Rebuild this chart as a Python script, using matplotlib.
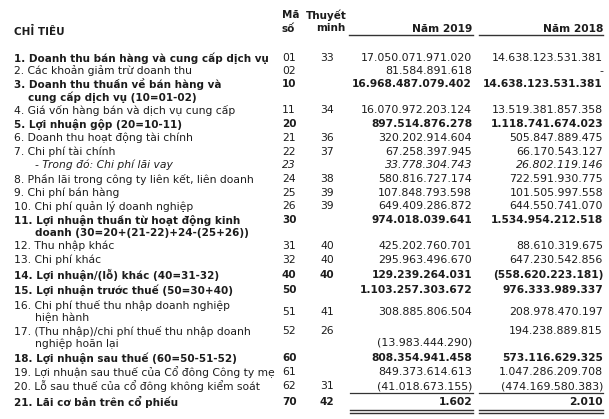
import matplotlib
matplotlib.use("Agg")
import matplotlib.pyplot as plt

# ---------------- data ----------------
labels = [
    "1. Doanh thu bán hàng và cung cấp dịch vụ",
    "2. Các khoản giảm trừ doanh thu",
    "3. Doanh thu thuần về bán hàng và\ncung cấp dịch vụ (10=01-02)",
    "4. Giá vốn hàng bán và dịch vụ cung cấp",
    "5. Lợi nhuận gộp (20=10-11)",
    "6. Doanh thu hoạt động tài chính",
    "7. Chi phí tài chính",
    "- Trong đó: Chi phí lãi vay",
    "8. Phần lãi trong công ty liên kết, liên doanh",
    "9. Chi phí bán hàng",
    "10. Chi phí quản lý doanh nghiệp",
    "11. Lợi nhuận thuần từ hoạt động kinh\ndoanh (30=20+(21-22)+24-(25+26))",
    "12. Thu nhập khác",
    "13. Chi phí khác",
    "14. Lợi nhuận/(lỗ) khác (40=31-32)",
    "15. Lợi nhuận trước thuế (50=30+40)",
    "16. Chi phí thuế thu nhập doanh nghiệp\nhiện hành",
    "17. (Thu nhập)/chi phí thuế thu nhập doanh\nnghiệp hoãn lại",
    "18. Lợi nhuận sau thuế (60=50-51-52)",
    "19. Lợi nhuận sau thuế của Cổ đông Công ty mẹ",
    "20. Lỗ sau thuế của cổ đông không kiểm soát",
    "21. Lãi cơ bản trên cổ phiếu",
]
codes = ["01", "02", "10", "11", "20", "21", "22", "23", "24", "25", "26",
         "30", "31", "32", "40", "50", "51", "52", "60", "61", "62", "70"]
notes = ["33", "", "", "34", "", "36", "37", "", "38", "39", "39",
         "", "40", "40", "40", "", "41", "26", "", "", "31", "42"]
values_2019 = ["17.050.071.971.020", "81.584.891.618", "16.968.487.079.402",
               "16.070.972.203.124", "897.514.876.278", "320.202.914.604",
               "67.258.397.945", "33.778.304.743", "580.816.727.174",
               "107.848.793.598", "649.409.286.872", "974.018.039.641",
               "425.202.760.701", "295.963.496.670", "129.239.264.031",
               "1.103.257.303.672", "308.885.806.504", "(13.983.444.290)",
               "808.354.941.458", "849.373.614.613", "(41.018.673.155)", "1.602"]
values_2018 = ["14.638.123.531.381", "-", "14.638.123.531.381",
               "13.519.381.857.358", "1.118.741.674.023", "505.847.889.475",
               "66.170.543.127", "26.802.119.146", "722.591.930.775",
               "101.505.997.558", "644.550.741.070", "1.534.954.212.518",
               "88.610.319.675", "647.230.542.856", "(558.620.223.181)",
               "976.333.989.337", "208.978.470.197", "194.238.889.815",
               "573.116.629.325", "1.047.286.209.708", "(474.169.580.383)", "2.010"]
header_label = "CHỈ TIÊU"
header_code = ["Mã", "số"]
header_note = ["Thuyết", "minh"]
header_years = ["Năm 2019", "Năm 2018"]

# ---------------- styles / layout ----------------
label_bold = [1, 0, 1, 0, 1, 0, 0, 0, 0, 0, 0, 1, 0, 0, 1, 1, 0, 0, 1, 0, 0, 1]
value_bold = [0, 0, 1, 0, 1, 0, 0, 0, 0, 0, 0, 1, 0, 0, 1, 1, 0, 0, 1, 0, 0, 1]
italic_rows = [7]
row_y = [58, 71, 84, 110, 124, 138, 152, 165, 179, 193, 206, 220,
         246, 260, 275, 290, 305, 331, 358, 372, 386, 402]
LINE = 13
indent = {2: 28, 11: 35, 16: 35, 17: 35}

W, H = 609, 419
fig = plt.figure(figsize=(W / 100, H / 100), dpi=100)
ax = fig.add_axes([0, 0, 1, 1])
ax.set_xlim(0, W)
ax.set_ylim(H, 0)
ax.axis("off")

col = "#1c1c1c"
FS_L = 7.75     # regular label size
FS_LB = 7.5     # bold label size
FS_N = 7.9      # regular number size
FS_NB = 7.7     # bold number size
X_LABEL = 14
X_CODE = 282
X_NOTE = 320
X_V19 = 472
X_V18 = 603


def fs_l(b):
    return FS_LB if b else FS_L


def fs_n(b):
    return FS_NB if b else FS_N


# header
ax.text(X_LABEL, 31, header_label, fontsize=FS_LB, fontweight="bold", color=col, va="center")
ax.text(X_CODE, 15, header_code[0], fontsize=FS_LB, fontweight="bold", color=col, va="center")
ax.text(X_CODE, 29, header_code[1], fontsize=FS_LB, fontweight="bold", color=col, va="center")
ax.text(326, 15, header_note[0], fontsize=FS_LB, fontweight="bold", color=col, va="center", ha="center")
ax.text(331, 28, header_note[1], fontsize=FS_LB, fontweight="bold", color=col, va="center", ha="center")
ax.text(X_V19, 29, header_years[0], fontsize=FS_NB, fontweight="bold", color=col, va="center", ha="right")
ax.text(X_V18, 29, header_years[1], fontsize=FS_NB, fontweight="bold", color=col, va="center", ha="right")
ax.plot([349, 473], [35, 35], color="#333333", lw=1.0)
ax.plot([479, 603], [35, 35], color="#333333", lw=1.0)

for i, lab in enumerate(labels):
    y = row_y[i]
    lb = bool(label_bold[i])
    vb = bool(value_bold[i])
    lw = "bold" if lb else "normal"
    vw = "bold" if vb else "normal"
    st = "italic" if i in italic_rows else "normal"
    lines = lab.split("\n")
    x0 = 35 if i in italic_rows else X_LABEL
    ax.text(x0, y, lines[0], fontsize=fs_l(lb), fontweight=lw, style=st, color=col, va="center")
    if len(lines) > 1:
        ax.text(indent[i], y + LINE, lines[1], fontsize=fs_l(lb), fontweight=lw, style=st,
                color=col, va="center")
    yc = yn = y19 = y18 = y
    if i == 16:
        yc = yn = y19 = y18 = y + LINE / 2
    if i == 17:
        y19 = y + 11
    ax.text(X_CODE, yc, codes[i], fontsize=fs_l(vb), fontweight=vw, style=st, color=col, va="center")
    ax.text(X_NOTE, yn, notes[i], fontsize=fs_l(vb), fontweight=vw, color=col, va="center")
    ax.text(X_V19, y19, values_2019[i], fontsize=fs_n(vb), fontweight=vw, style=st, color=col,
            va="center", ha="right")
    ax.text(X_V18, y18, values_2018[i], fontsize=fs_n(vb), fontweight=vw, style=st, color=col,
            va="center", ha="right")

# underline under row 20 and double underline under row 21
for x0, x1 in [(350, 473), (479, 603)]:
    ax.plot([x0, x1], [393, 393], color="#333333", lw=0.9)
    ax.plot([x0, x1], [410, 410], color="#333333", lw=1.0)
    ax.plot([x0, x1], [413, 413], color="#333333", lw=1.0)

fig.savefig("out.png", dpi=100)
